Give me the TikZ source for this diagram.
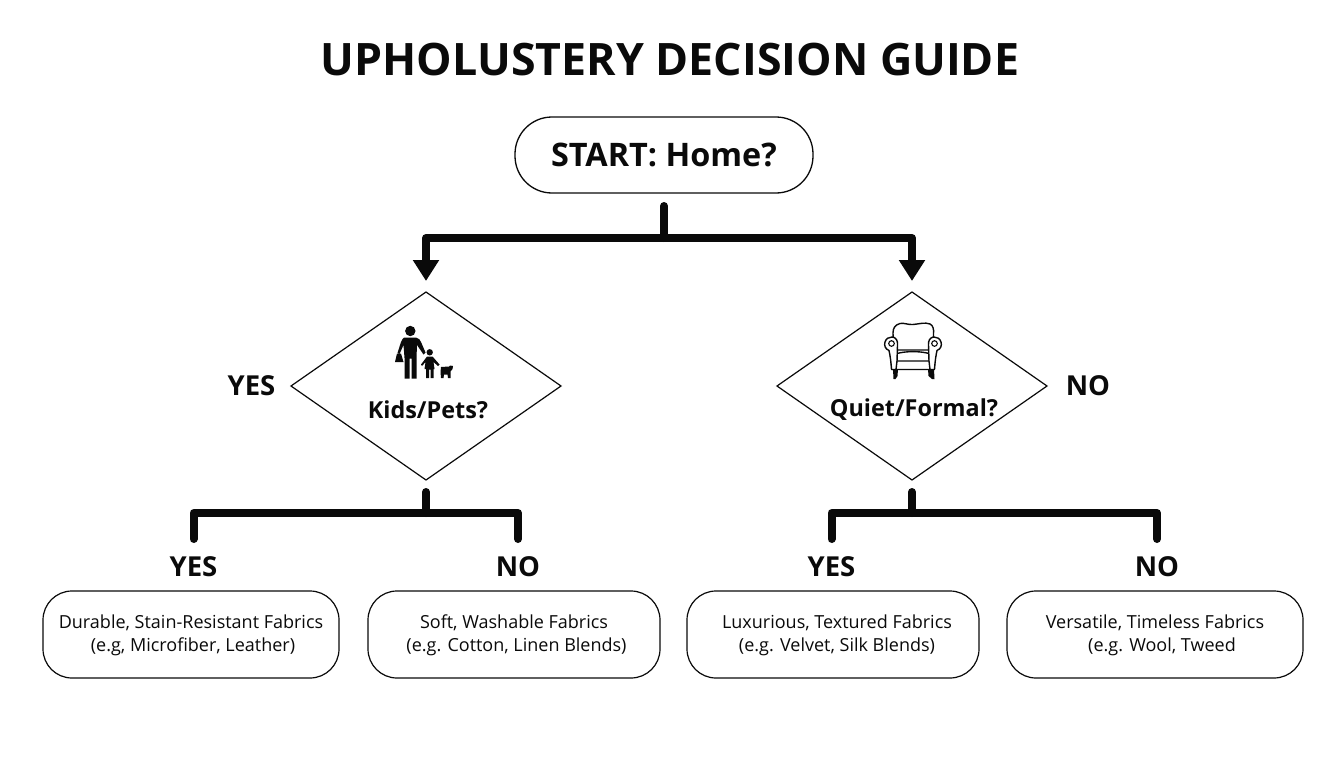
\documentclass[tikz,border=0pt]{standalone}
\usepackage{fontspec}
\setmainfont{Open Sans}
\usetikzlibrary{shapes.geometric,arrows.meta}
\definecolor{ink}{HTML}{0A0A0A}
\tikzset{
  x=1pt,y=-1pt,
  every node/.style={text=ink,inner sep=0pt,outer sep=0pt},
  startbox/.style={draw=ink,line width=1.3pt,rounded corners=37pt,minimum width=298pt,minimum height=76pt,font=\fontsize{32.4}{38}\selectfont\bfseries},
  fabric/.style={draw=ink,line width=1.2pt,rounded corners=29pt,minimum width=#1,minimum height=87pt},
  fabrictext/.style={align=center,font=\fontsize{18}{23}\selectfont},
  choice/.style={draw=ink,line width=1.2pt,diamond,aspect=1.436,minimum width=270pt,minimum height=188pt},
  qlabel/.style={font=\fontsize{23.4}{28}\selectfont\bfseries},
  answer/.style={font=\fontsize{27.5}{32}\selectfont\bfseries},
  branch/.style={draw=ink,line width=8pt,line cap=round,line join=round},
  branchtip/.style={branch,shorten >=11pt,-{Triangle[length=21pt,width=25pt]}},
  icon/.style={fill=ink,draw=none},
  chairline/.style={draw=ink,line width=1.4pt,fill=white,line join=round}
}
\begin{document}
\begin{tikzpicture}
\useasboundingbox (0,0) rectangle (1344,768);
\fill[white] (0,0) rectangle (1344,768);

\node[font=\fontsize{44.7}{52}\selectfont\bfseries] (title) at (670,60) {UPHOLUSTERY DECISION GUIDE};
\node[startbox] (start) at (664,155) {START: Home?};

\node[choice] (kids) at (426,386) {};
\node[choice] (quiet) at (912,386) {};
\node[qlabel] (kidslabel) at (428,410) {Kids/Pets?};
\node[qlabel] (quietlabel) at (914,410) {Quiet/Formal?};
\node[answer] (kidsyes) at (251.5,386) {YES};
\node[answer] (quietno) at (1088,386) {NO};

\node[fabric=296pt] (durable) at (191,634.5) {};
\node[fabric=292pt] (soft) at (514,634.5) {};
\node[fabric=292pt] (lux) at (833,634.5) {};
\node[fabric=296pt] (versatile) at (1155,634.5) {};
\node[fabrictext] (durabletext) at (191,635.5) {Durable, Stain-Resistant Fabrics\\\hspace*{4pt}(e.g, Microfiber, Leather)};
\node[fabrictext] (softtext) at (514,635.5) {Soft, Washable Fabrics\\\hspace*{5pt}(e.g. Cotton, Linen Blends)};
\node[fabrictext] (luxtext) at (837,635.5) {Luxurious, Textured Fabrics\\(e.g. Velvet, Silk Blends)};
\node[fabrictext] (versatiletext) at (1155,635.5) {Versatile, Timeless Fabrics\\\hspace*{14pt}(e.g. Wool, Tweed};

\node[answer] (a1) at (193.5,567) {YES};
\node[answer] (a2) at (518,567) {NO};
\node[answer] (a3) at (831.5,567) {YES};
\node[answer] (a4) at (1157,567) {NO};

% connectors
\coordinate (topstem) at (start.south |- 0,206);
\coordinate (topbar) at (start.south |- 0,238);
\draw[branch] (topstem) -- (topbar);
\draw[branchtip] (topbar) -| (kids.north);
\draw[branchtip] (topbar) -| (quiet.north);

\coordinate (kstem) at (kids.south |- 0,492);
\coordinate (kbar) at (kids.south |- 0,513);
\draw[branch] (kstem) -- (kbar);
\coordinate (a1top) at (a1.north |- 0,539);
\coordinate (a2top) at (a2.north |- 0,539);
\draw[branch] (a1top) |- (kbar) -| (a2top);

\coordinate (qstem) at (quiet.south |- 0,492);
\coordinate (qbar) at (quiet.south |- 0,513);
\draw[branch] (qstem) -- (qbar);
\coordinate (a3top) at (a3.north |- 0,539);
\coordinate (a4top) at (a4.north |- 0,539);
\draw[branch] (a3top) |- (qbar) -| (a4top);

% person, child, dog
\fill[icon] (410.3,331) circle (5.2);
\fill[icon] (404,337.5) -- (416,337.5) .. controls (419,338) and (420,340) .. (421,342) -- (425.5,352.5) -- (423.5,354.5) -- (417,345) -- (416.5,358) -- (416.5,378.5) -- (411.5,378.5) -- (411.5,358.5) -- (409.5,358.5) -- (409.5,378.5) -- (404.5,378.5) -- (404.5,358) -- (403.5,345) -- (399.5,354) -- (397.5,353) -- (401,342) .. controls (402,339.5) and (403,338) .. (404,337.5) -- cycle;
\fill[icon] (397,353.5) -- (401,353.5) -- (403.5,362) -- (395,362) -- cycle;
\fill[icon] (429.7,352.3) circle (3.2);
\fill[icon] (427,356.5) -- (432.5,356.5) -- (439.5,364.5) -- (438,366) -- (433.5,362) -- (434.5,369) -- (433.5,369) -- (433.5,378) -- (430.5,378) -- (430.5,369.5) -- (429,369.5) -- (429,378) -- (426,378) -- (426,369) -- (424.5,369) -- (425.5,362) -- (422,366) -- (421,364.5) -- cycle;
\fill[icon] (441,367) -- (449,366.5) -- (450,365.5) -- (453,366) -- (452.5,369) -- (450.5,371.5) -- (450.5,378) -- (448,378) -- (447.5,374.5) -- (444,374.5) -- (443.5,378) -- (441,378) -- (440.5,372) -- cycle;

% armchair
\fill[icon] (893,369) -- (898,369) -- (897.5,376) -- (895.5,379) -- (893.5,379) -- cycle;
\fill[icon] (928,369) -- (934,369) -- (934.5,379) -- (932,379) -- (928.5,376) -- cycle;
% back
\draw[chairline] (893.5,352) -- (893,333) .. controls (893,328) and (895,325) .. (900,323.5) .. controls (904,322.5) and (908,325) .. (913,324.5) .. controls (919,324) and (925,322) .. (930,324) .. controls (933,325.5) and (934,329) .. (933.5,334) -- (933,352) -- cycle;
% seat base
\draw[chairline] (890,350) -- (936,350) -- (934,369.5) -- (892,369.5) -- cycle;
% cushion
\draw[chairline] (897,353.5) .. controls (906,351) and (920,351) .. (929,353.5) -- (929,361) -- (897,361) -- cycle;
% arms
\draw[chairline] (889,350.5) .. controls (885,349) and (884,345) .. (885,342) .. controls (886,338.5) and (889,337) .. (892,337) .. controls (896,337) and (898,341) .. (897.5,345) -- (897,361) -- (896,369.5) -- (891.5,369.5) .. controls (891,361) and (890,355) .. (889,350.5) -- cycle;
\draw[chairline] (937,350.5) .. controls (941,349) and (942,345) .. (941,342) .. controls (940,338.5) and (937,337) .. (934,337) .. controls (930,337) and (928,341) .. (928.5,345) -- (929,361) -- (930,369.5) -- (934.5,369.5) .. controls (935,361) and (936,355) .. (937,350.5) -- cycle;
\draw[draw=ink,line width=1.1pt] (891.5,343.5) circle (2.8) (934.5,343.5) circle (2.8);
\end{tikzpicture}
\end{document}
